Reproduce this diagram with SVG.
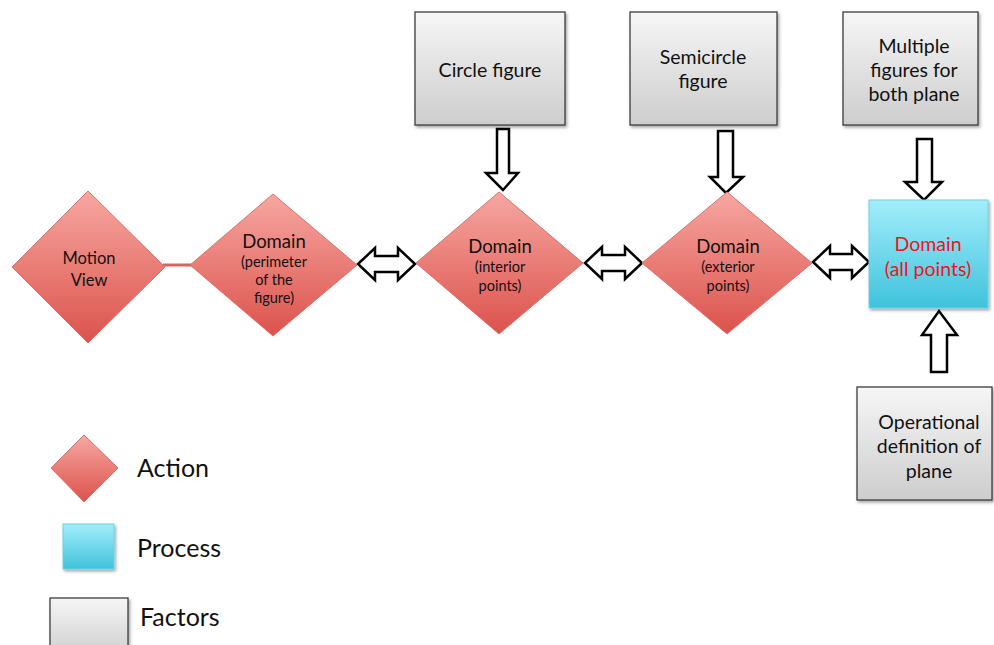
<svg xmlns="http://www.w3.org/2000/svg" width="994" height="645" viewBox="0 0 994 645">
<defs>
<linearGradient id="gRed" x1="0" y1="0" x2="0" y2="1"><stop offset="0" stop-color="#f7a7a1"/><stop offset="1" stop-color="#dc524c"/></linearGradient>
<linearGradient id="gBlue" x1="0" y1="0" x2="0" y2="1"><stop offset="0" stop-color="#a3eefb"/><stop offset="1" stop-color="#3fc2dc"/></linearGradient>
<linearGradient id="gGray" x1="0" y1="0" x2="0" y2="1"><stop offset="0" stop-color="#f6f6f6"/><stop offset="1" stop-color="#cdcdcd"/></linearGradient>
<filter id="sh" x="-10%" y="-10%" width="130%" height="130%"><feDropShadow dx="1.5" dy="2" stdDeviation="1.5" flood-color="#000" flood-opacity="0.35"/></filter>
</defs>
<style>
text{font-family:"Lato","Liberation Sans",sans-serif;fill:#111;text-anchor:middle}
.t{font-size:19.5px}
.s{font-size:14.5px}
.d{font-size:18.5px}
.m{font-size:16.5px}
.red{fill:url(#gRed);stroke:#d9726c;stroke-width:1}
.blue{fill:url(#gBlue);stroke:#6fcfe2;stroke-width:1;filter:url(#sh)}
.gray{fill:url(#gGray);stroke:#3d3d3d;stroke-width:1.3;filter:url(#sh)}
.arr{fill:#fff;stroke:#000;stroke-width:2.5;stroke-linejoin:miter}
.leg{font-size:25px;text-anchor:start}
</style>
<rect width="994" height="645" fill="#fff"/>

<g id="connectors">
<line x1="163" y1="265" x2="192" y2="265" stroke="#d9635d" stroke-width="3"/>
<path class="arr" d="M358,264 L375,248 L375,256 L398,256 L398,248 L415,264 L398,280 L398,272 L375,272 L375,280 Z"/>
<path class="arr" d="M585,263 L602,247 L602,255 L625,255 L625,247 L642,263 L625,279 L625,271 L602,271 L602,279 Z"/>
<path class="arr" d="M813,262 L830,246 L830,254 L852,254 L852,246 L869,262 L852,278 L852,270 L830,270 L830,278 Z"/>
<path class="arr" d="M497,129 L509,129 L509,173 L518,173 L503,190 L486,173 L497,173 Z"/>
<path class="arr" d="M718,131 L733,131 L733,177 L743,177 L726,193 L710,177 L718,177 Z"/>
<path class="arr" d="M917,139 L932,139 L932,182 L942,182 L924,200 L905,182 L917,182 Z"/>
<path class="arr" d="M931,372 L947,372 L947,335 L957,335 L939,311 L922,335 L931,335 Z"/>
</g>

<g id="motion-view">
<polygon class="red" points="88,191 165,267 88,343 12,267"/>
<text class="m" x="89" y="264">Motion</text>
<text class="m" x="89" y="286">View</text>
</g>

<g id="domain-perimeter">
<polygon class="red" points="273,194 357,265 273,336 190,265"/>
<text class="d" x="274" y="248">Domain</text>
<text class="s" x="274" y="267">(perimeter</text>
<text class="s" x="274" y="285">of the</text>
<text class="s" x="274" y="303">figure)</text>
</g>

<g id="domain-interior">
<polygon class="red" points="499,192 583,263 499,334 416,263"/>
<text class="d" x="500" y="253">Domain</text>
<text class="s" x="500" y="272">(interior</text>
<text class="s" x="500" y="291">points)</text>
</g>

<g id="domain-exterior">
<polygon class="red" points="727,192 812,263 727,334 642,263"/>
<text class="d" x="728" y="253">Domain</text>
<text class="s" x="728" y="272">(exterior</text>
<text class="s" x="728" y="291">points)</text>
</g>

<g id="domain-all">
<rect class="blue" x="869" y="200" width="119" height="108"/>
<text class="t" x="928" y="251" style="fill:#f0141c">Domain</text>
<text class="t" x="928" y="276" style="fill:#f0141c">(all points)</text>
</g>

<g id="circle-figure">
<rect class="gray" x="415" y="12" width="150" height="113"/>
<text class="t" x="490" y="77">Circle figure</text>
</g>

<g id="semicircle-figure">
<rect class="gray" x="630" y="12" width="147" height="113"/>
<text class="t" x="703" y="64">Semicircle</text>
<text class="t" x="703" y="88">figure</text>
</g>

<g id="multiple-figures">
<rect class="gray" x="843" y="12" width="135" height="113"/>
<text class="t" x="914" y="53">Multiple</text>
<text class="t" x="914" y="77">figures for</text>
<text class="t" x="914" y="101">both plane</text>
</g>

<g id="operational-definition">
<rect class="gray" x="857" y="387" width="135" height="113"/>
<text class="t" x="929" y="429">Operational</text>
<text class="t" x="929" y="453">definition of</text>
<text class="t" x="929" y="478">plane</text>
</g>

<g id="legend">
<polygon class="red" points="84,435 118,468 84,502 51,468"/>
<text class="leg" x="137" y="477">Action</text>
<rect class="blue" x="63" y="524" width="51" height="45"/>
<text class="leg" x="137" y="557">Process</text>
<rect class="gray" x="50" y="598" width="78" height="60"/>
<text class="leg" x="140" y="626">Factors</text>
</g>
</svg>
